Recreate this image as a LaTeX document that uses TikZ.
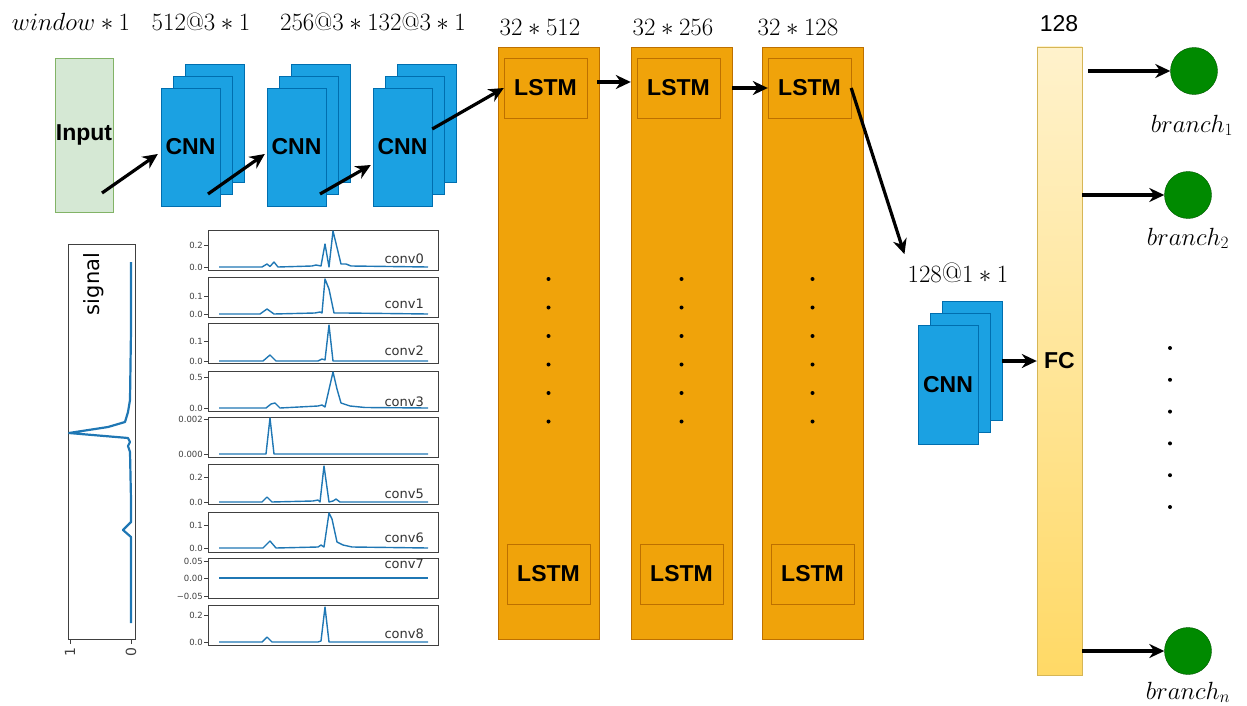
\documentclass[tikz,border=0pt]{standalone}
\usepackage{fontspec}
\setsansfont{Liberation Sans}
\newfontfamily\plotfont{DejaVu Sans}
\usepackage{tikz}
\usetikzlibrary{positioning,arrows.meta,calc}

\definecolor{cnnblue}{HTML}{1BA1E2}
\definecolor{cnnedge}{HTML}{006EAF}
\definecolor{lstmorange}{HTML}{F0A30A}
\definecolor{lstmedge}{HTML}{BD7000}
\definecolor{fclight}{HTML}{FFF2CC}
\definecolor{fcdark}{HTML}{FFD966}
\definecolor{fcedge}{HTML}{D6B656}
\definecolor{inputgreen}{HTML}{D5E8D4}
\definecolor{inputedge}{HTML}{82B366}
\definecolor{branchgreen}{HTML}{008A00}
\definecolor{branchedge}{HTML}{005700}
\definecolor{mplblue}{HTML}{1F77B4}

\begin{document}
\begin{tikzpicture}[
x=1pt, y=-1pt,
dimlabel/.style={font=\fontsize{25}{30}\selectfont, inner sep=0pt, anchor=base},
boxlabel/.style={font=\sffamily\bfseries\fontsize{23}{27}\selectfont},
inputbox/.style={boxlabel, draw=inputedge, fill=inputgreen, minimum width=58pt, minimum height=154pt, inner sep=0pt},
cnnback/.style={draw=cnnedge, fill=cnnblue},
cnnbox/.style={boxlabel, cnnback, minimum width=59pt, minimum height=118pt, inner sep=0pt},
lstmcol/.style={draw=lstmedge, fill=lstmorange, minimum width=101pt, minimum height=592pt, inner sep=0pt},
lstmbox/.style={boxlabel, draw=lstmedge, minimum width=83pt, minimum height=60pt, inner sep=0pt},
fcbar/.style={boxlabel, draw=fcedge, top color=fclight, bottom color=fcdark, minimum width=45pt, minimum height=628pt, inner sep=0pt},
branch/.style={circle, draw=branchedge, fill=branchgreen, minimum size=47pt, inner sep=0pt},
arrow/.style={-{Stealth[length=15pt, width=14pt]}, line width=3.2pt},
sigline/.style={mplblue, line width=1.6pt, line join=round},
axframe/.style={draw=black!75, line width=0.9pt},
ticklab/.style={font=\plotfont\fontsize{8.5}{10}\selectfont, text=black!75, inner sep=1pt},
convlab/.style={font=\plotfont\fontsize{13}{15}\selectfont, text=black!80, inner sep=0pt}
]
\useasboundingbox (0,0) rectangle (1247,706);

% input and first convolutions
\node[inputbox] (input) at (84,135) {Input};
\foreach \k/\cx in {1/190.5, 2/296.5, 3/402.5} {
  \foreach \d in {24,12}
    \draw[cnnback] (\cx-29.5+\d,88-\d) rectangle ++(59,118);
  \node[cnnbox] (cnn\k) at (\cx,147) {CNN};
}
\node[dimlabel] (dimIn) at (71,31) {$window*1$};
\node[dimlabel] (dimA) at (201,31) {$512@3*1$};
\node[dimlabel] (dimB) at (373,31) {$256@3*132@3*1$};

% LSTM columns
\foreach \c/\cx/\lx/\sz in {A/548.5/540/32*512, B/681.5/673/32*256, C/812.5/798/32*128} {
  \node[lstmcol] (col\c) at (\cx,343) {};
  \node[lstmbox] (lstm\c) at (\cx-3,88) {LSTM};
  \node[lstmbox] (lstm\c bot) at (\cx,574) {LSTM};
  \node[dimlabel] (dim\c) at (\lx,36) {$\sz$};
  \foreach \j in {0,...,5}
    \fill (\cx,279+28.5*\j) circle (2pt);
}

% last convolution and fully connected layer
\foreach \d in {24,12}
  \draw[cnnback] (918+\d,325-\d) rectangle ++(60,119);
\node[cnnbox, minimum width=60pt, minimum height=119pt] (cnn4) at (948,384.5) {CNN};
\node[dimlabel, font=\fontsize{28}{33}\selectfont] (dimD) at (958,282) {$128@1*1$};
\node[fcbar] (fc) at (1059.5,361) {FC};
\node[font=\sffamily\fontsize{23}{27}\selectfont, inner sep=0pt, anchor=base] (fcsize) at (1059,32) {128};

% branches
\node[branch] (b1) at (1194,71) {};
\node[branch] (b2) at (1188,195) {};
\node[branch] (bn) at (1188,651) {};
\node[dimlabel, font=\fontsize{27}{32}\selectfont] (b1lab) at (1192,132) {$branch_1$};
\node[dimlabel, font=\fontsize{27}{32}\selectfont] (b2lab) at (1188,245) {$branch_2$};
\node[dimlabel, font=\fontsize{27}{32}\selectfont] (bnlab) at (1188,699) {$branch_n$};
\foreach \j in {0,...,5}
  \fill (1170,348+31.8*\j) circle (2pt);

% arrows
\draw[arrow] ([shift={(18,58)}]input.center) -- ([shift={(-3,7)}]cnn1.west);
\draw[arrow] ([shift={(17.5,47)}]cnn1.center) -- ([shift={(-2,7)}]cnn2.west);
\draw[arrow] ([shift={(23.5,47)}]cnn2.center) -- ([shift={(-2,18)}]cnn3.west);
\draw[arrow] ([shift={(0,-18)}]cnn3.east) -- (lstmA.west);
\draw[arrow] ($(lstmA.east -| colA.east)+(-2,-6)$) -- ($(lstmA.east -| colB.west)+(0,-6)$);
\draw[arrow] (lstmB.east -| colB.east) -- (lstmC.west);
\draw[arrow] (lstmC.east) -- ([shift={(-3,-8)}]dimD.north west);
\draw[arrow] ([shift={(24,-23.5)}]cnn4.east) -- (fc.west);
\draw[arrow] ($(fc.east |- b1)+(6,0)$) -- (b1.west);
\draw[arrow] (fc.east |- b2) -- (b2.west);
\draw[arrow] (fc.east |- bn) -- (bn.west);

% signal plot
\draw[axframe] (68,244) rectangle (135,639);
\node[font=\plotfont\fontsize{21}{25}\selectfont, rotate=90] (siglab) at (94,284) {signal};
\draw[sigline, line width=2.2pt] plot coordinates {(131,262) (131,330) (130,400) (128,412) (125,422) (108,427) (69,433) (128,438) (130,442) (128,446) (130,452) (131,500) (131,522) (123,530) (131,537) (131,623)};
\foreach \tx/\tl in {70/1, 131/0} {
  \draw[axframe] (\tx,639) -- (\tx,644);
  \node[ticklab, font=\plotfont\fontsize{14}{16}\selectfont, rotate=90, anchor=east] at (\tx,646) {\tl};
}

% feature maps of the convolutions
\foreach \ty/\bl/\lab/\ly/\pts in {
 230/37/conv0/29/{262/0,267/3,270/0.5,274/5,278/0,312/1,316/2,321/1,325/23,329/0,333/36,341/3,346/3,351/1,428/0},
 277/37/conv1/27/{260/0,267/5,274/0,315/1,320/2,322/1,325/35,329/25,334/1,345/1,428/0},
 323/38/conv2/28/{263/0,270/6,276/0,318/0,322/2,325/1,329/36,333/0,428/0},
 371/37/conv3/31/{266/0,271/4,275/5,280/0,318/2,322/3,325/1,333/36,337/19,341/5,350/2,365/0.5,428/0},
 417/37//0/{266/0,270/36,274/0,428/0},
 464/38/conv5/30/{262/0,267/5,272/0,313/1,318/2,320/0,324/36,329/0,333/1,336/3,340/0,428/0},
 512/36/conv6/26/{263/0,270/7,276/0,318/1,321/3,324/1,329/35,332/29,337/6,343/3,352/1,428/0},
 558/20/conv7/6/{428/0},
 605/37/conv8/29/{262/0,267/5,272/0,318/0,321/1,325/35,329/0,428/0}} {
  \draw[axframe] (208,\ty) rectangle (438,\ty+40);
  \draw[sigline, line width=1.4pt] (219,\ty+\bl) \foreach \px/\ph in \pts {-- (\px,\ty+\bl-\ph)};
  \node[convlab, anchor=east] at (424,\ty+\ly) {\lab};
}
\foreach \yy/\tv in {245/0.2, 267/0.0, 296/0.1, 314/0.0, 341/0.1, 361/0.0, 377/0.5, 408/0.0, 419/0.002, 454/0.000, 477/0.2, 502/0.0, 525/0.1, 548/0.0, 561/0.05, 578/0.00, 596/−0.05, 615/0.2, 642/0.0} {
  \draw[axframe] (204,\yy) -- (208,\yy);
  \node[ticklab, anchor=east] at (204,\yy) {\tv};
}
\end{tikzpicture}
\end{document}
